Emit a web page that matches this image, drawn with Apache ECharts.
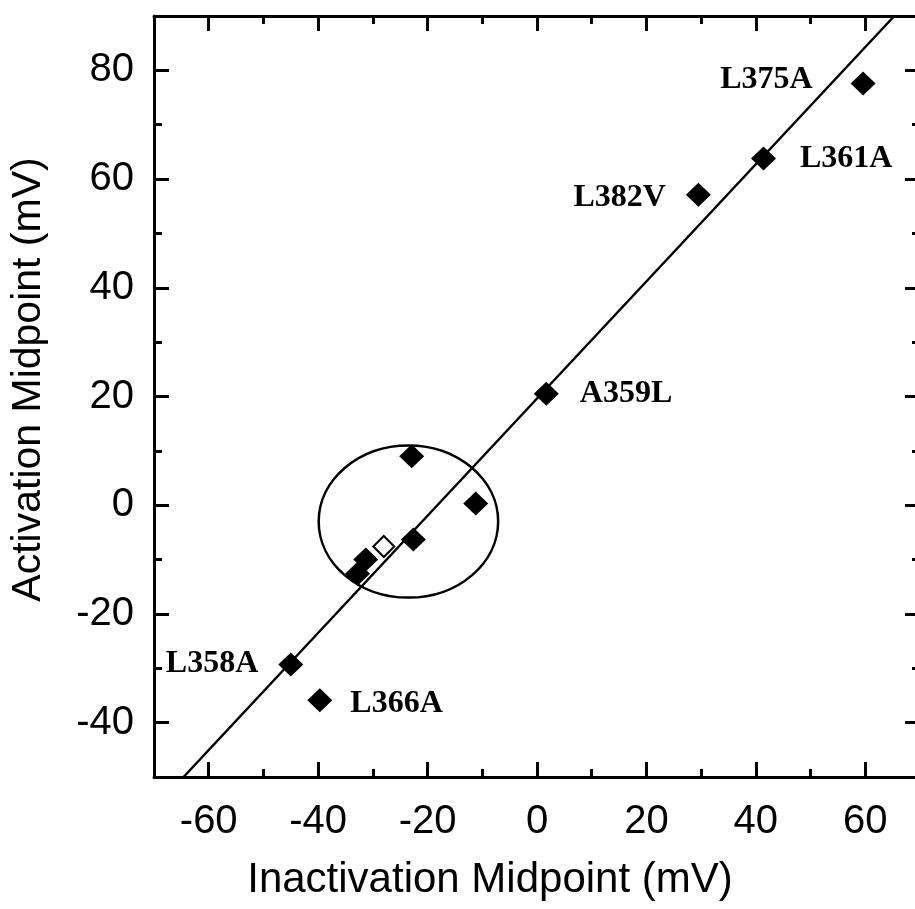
<!DOCTYPE html>
<html>
<head>
<meta charset="utf-8">
<script src="https://cdn.jsdelivr.net/npm/echarts@6/dist/echarts.min.js"></script>
<style>
  html, body { margin: 0; padding: 0; background: #fff; }
  #chart { width: 915px; height: 909px; }
</style>
</head>
<body>
<div id="chart"></div>
<script>
// Labelled S4 mutants: inactivation vs activation midpoint (mV)
const mutantNames = ['L375A', 'L361A', 'L382V', 'A359L', 'L358A', 'L366A'];
const mutantInact = [59.6, 41.4, 29.5, 1.7, -45.0, -39.7];
const mutantAct   = [77.6, 63.8, 57.1, 20.5, -29.3, -35.9];

// Non-S4 mutants (filled symbols)
const nonS4Inact = [-22.9, -11.2, -22.6, -31.3, -32.8];
const nonS4Act   = [9.0, 0.3, -6.3, -10.0, -12.6];

// Non-S4 mutant drawn with an open symbol
const openInact = [-28.0];
const openAct   = [-7.6];

// Regression line end points
const fitInact = [-64.6, 65.3];
const fitAct   = [-50, 90];

// Ellipse grouping the non-S4 mutants: centre and semi-axes (mV)
const groupCentre = [-23.5, -3.0];
const groupRadii  = [16.4, 14.0];
const groupLabel  = 'NON-S4 MUTANTS';
const groupLabelAt = [-4.3, -3.3];

// Axis ticks
const xTicksMajor = [-60, -40, -20, 0, 20, 40, 60];
const xTicksMinor = [-70, -50, -30, -10, 10, 30, 50, 70];
const yTicksMajor = [-40, -20, 0, 20, 40, 60, 80];
const yTicksMinor = [-50, -30, -10, 10, 30, 50, 70, 90];

// Where each mutant name sits relative to its symbol
const labelPlacement = [
  { position: 'left',  distance: 38, offset: [0, -4] },
  { position: 'right', distance: 24, offset: [0, 0] },
  { position: 'left',  distance: 20, offset: [0, 3] },
  { position: 'right', distance: 21, offset: [0, 0] },
  { position: 'left',  distance: 20, offset: [0, -1] },
  { position: 'right', distance: 18, offset: [0, 3] }
];

const INK = '#000';
const sansFont = '"Liberation Sans", Arial, Helvetica, sans-serif';
const serifFont = '"Liberation Serif", "Times New Roman", serif';

function makeAxis(kind, position, ticks, tickLen, opts) {
  const isX = kind === 'x';
  const ax = {
    type: 'value',
    position: position,
    min: isX ? -70 : -50,
    max: isX ? 70 : 90,
    interval: 10,
    splitLine: { show: false },
    axisLine: { show: !!opts.line, onZero: false, lineStyle: { color: INK, width: 3 } },
    axisTick: {
      show: true, inside: true, length: tickLen, customValues: ticks,
      lineStyle: { color: INK, width: 3 }
    },
    axisLabel: { show: false }
  };
  if (opts.labels) {
    ax.axisLabel = {
      show: true, customValues: ticks,
      color: INK, fontFamily: sansFont, fontSize: 40,
      margin: isX ? 25 : 20
    };
  }
  if (opts.name) {
    ax.name = opts.name;
    ax.nameLocation = 'middle';
    ax.nameGap = opts.nameGap;
    ax.nameTextStyle = {
      color: INK, fontFamily: sansFont, fontSize: opts.nameSize,
      padding: opts.namePadding
    };
  }
  return ax;
}

const chart = echarts.init(document.getElementById('chart'), null, { renderer: 'canvas' });

const zip = (xs, ys) => xs.map((x, i) => [x, ys[i]]);

const markLabel = {
  show: true,
  color: INK,
  fontFamily: serifFont,
  fontWeight: 'bold',
  fontSize: 32
};

chart.setOption({
  animation: false,
  backgroundColor: '#fff',
  grid: {
    left: 154, top: 16, width: 766, height: 761,
    containLabel: false, outerBoundsMode: 'none'
  },
  xAxis: [
    makeAxis('x', 'bottom', xTicksMajor, 15, {
      line: true, labels: true, name: 'Inactivation Midpoint (mV)',
      nameGap: 82, nameSize: 42, namePadding: [0, 94, 0, 0]
    }),
    makeAxis('x', 'bottom', xTicksMinor, 8, {}),
    makeAxis('x', 'top', xTicksMajor, 15, { line: true }),
    makeAxis('x', 'top', xTicksMinor, 8, {})
  ],
  yAxis: [
    makeAxis('y', 'left', yTicksMajor, 15, {
      line: true, labels: true, name: 'Activation Midpoint (mV)',
      nameGap: 105, nameSize: 41, namePadding: [0, 0, 0, 34]
    }),
    makeAxis('y', 'left', yTicksMinor, 8, {}),
    makeAxis('y', 'right', yTicksMajor, 15, { line: true }),
    makeAxis('y', 'right', yTicksMinor, 8, {})
  ],
  series: [
    {
      name: 'fit',
      type: 'line',
      xAxisIndex: 0, yAxisIndex: 0,
      data: zip(fitInact, fitAct),
      symbol: 'none',
      silent: true,
      lineStyle: { color: INK, width: 2.5 },
      z: 2
    },
    {
      name: 'group',
      type: 'custom',
      xAxisIndex: 0, yAxisIndex: 0,
      data: [[groupCentre[0], groupCentre[1], groupRadii[0], groupRadii[1]]],
      encode: { x: 0, y: 1 },
      silent: true,
      z: 2,
      renderItem: function (params, api) {
        const c = api.coord([api.value(0), api.value(1)]);
        const s = api.size([api.value(2), api.value(3)]);
        return {
          type: 'ellipse',
          shape: { cx: c[0], cy: c[1], rx: s[0], ry: s[1] },
          style: { fill: 'none', stroke: INK, lineWidth: 2.5 }
        };
      }
    },
    {
      name: 'S4 mutants',
      type: 'scatter',
      xAxisIndex: 0, yAxisIndex: 0,
      symbol: 'diamond',
      symbolSize: [25, 24],
      itemStyle: { color: INK, opacity: 1 },
      z: 5,
      label: Object.assign({ formatter: '{b}' }, markLabel),
      data: mutantNames.map((n, i) => ({
        name: n,
        value: [mutantInact[i], mutantAct[i]],
        label: labelPlacement[i]
      }))
    },
    {
      name: 'non-S4 mutants',
      type: 'scatter',
      xAxisIndex: 0, yAxisIndex: 0,
      symbol: 'diamond',
      symbolSize: [25, 24],
      itemStyle: { color: INK, opacity: 1 },
      z: 5,
      data: zip(nonS4Inact, nonS4Act)
    },
    {
      name: 'non-S4 open',
      type: 'scatter',
      xAxisIndex: 0, yAxisIndex: 0,
      symbol: 'diamond',
      symbolSize: [21, 21],
      itemStyle: { color: '#fff', borderColor: INK, borderWidth: 2, opacity: 1 },
      z: 6,
      data: zip(openInact, openAct)
    },
    {
      name: 'group label',
      type: 'scatter',
      xAxisIndex: 0, yAxisIndex: 0,
      symbol: 'none',
      symbolSize: 0,
      silent: true,
      itemStyle: { opacity: 1 },
      label: Object.assign({
        position: 'right',
        distance: 0,
        formatter: groupLabel
      }, markLabel),
      data: [groupLabelAt]
    }
  ]
});
</script>
</body>
</html>
